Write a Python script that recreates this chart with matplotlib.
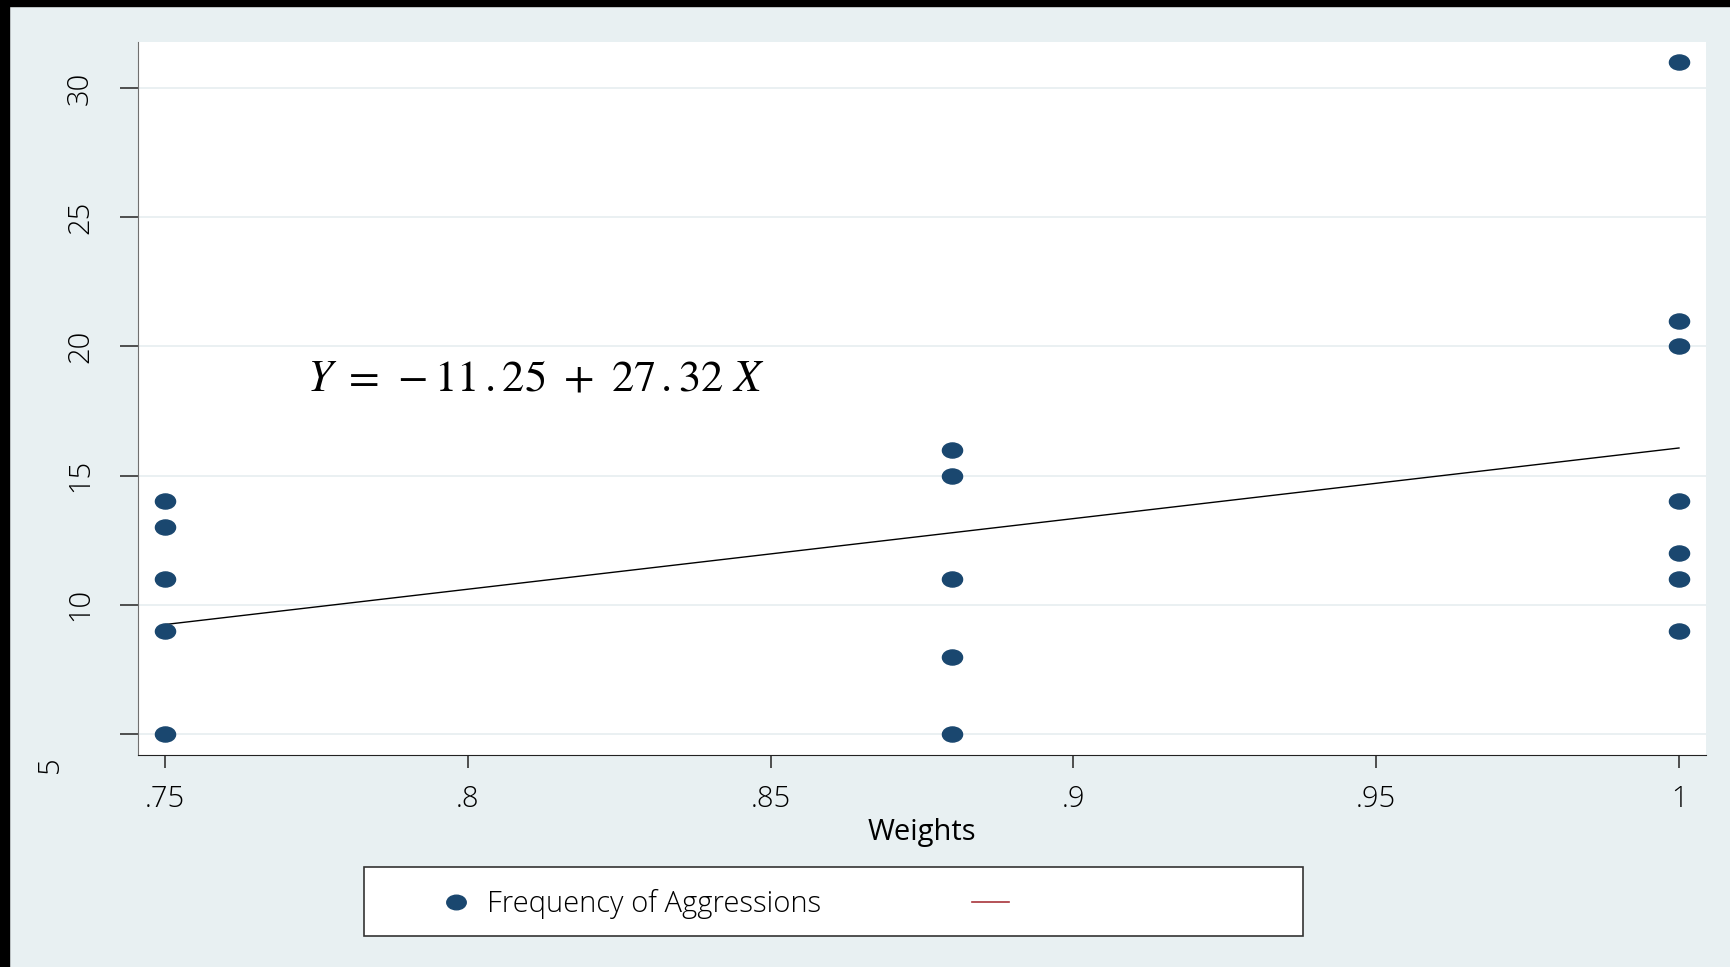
import matplotlib.pyplot as plt
import numpy as np
from matplotlib.path import Path
from matplotlib.patches import Rectangle
from matplotlib.lines import Line2D

# weights and observed aggression counts
weights = [0.75, 0.75, 0.75, 0.75, 0.75,
           0.88, 0.88, 0.88, 0.88, 0.88,
           1.0, 1.0, 1.0, 1.0, 1.0, 1.0, 1.0]
aggressions = [14, 13, 11, 9, 5,
               16, 15, 11, 8, 5,
               31, 21, 20, 14, 12, 11, 9]

# fitted line coefficients
intercept = -11.25
slope = 27.32

xticks = [0.75, 0.8, 0.85, 0.9, 0.95, 1.0]
xtick_labels = ['.75', '.8', '.85', '.9', '.95', '1']
yticks = [5, 10, 15, 20, 25, 30]
ytick_labels = ['', '10', '15', '20', '25', '30']

bg = '#e8f0f2'
navy = '#1a476f'
maroon = '#a8353b'
W, H = 1731, 967

plt.rcParams['font.family'] = ['Open Sans', 'DejaVu Sans']
plt.rcParams['font.weight'] = 'light'
plt.rcParams['mathtext.fontset'] = 'stix'

fig = plt.figure(figsize=(W / 100, H / 100), dpi=100, facecolor=bg)
# black frame strips on the top and left edges
fig.patches.append(Rectangle((0, 1 - 6 / H), 1, 6 / H, transform=fig.transFigure,
                             color='black', zorder=-1))
fig.patches.append(Rectangle((0, 0), 9 / W, 1, transform=fig.transFigure,
                             color='black', zorder=-1))

ax = fig.add_axes([138 / W, 1 - 755 / H, (1706 - 138) / W, (755 - 42) / H])
ax.set_facecolor('white')

# ellipse marker, a bit wider than tall
circ = Path.unit_circle()
ellipse = Path(circ.vertices * np.array([1.0, 0.75]), circ.codes)

ax.plot(weights, aggressions, linestyle='none', marker=ellipse, markersize=14.5,
        color=navy, zorder=3)

xs = np.array([min(weights), max(weights)])
ax.plot(xs, intercept + slope * xs, color='black', linewidth=1.0, zorder=2)

ax.text(0.7734, 18.74, r'$Y\ =\,-11\,{.}25\ +\ 27\,{.}32\,\,X$', fontsize=32,
        va='center', ha='left')

ax.set_xlim(0.7455, 1.00446)
ax.set_ylim(4.19, 31.78)
ax.set_xticks(xticks)
ax.set_xticklabels(xtick_labels)
ax.set_yticks(yticks)
ax.set_yticklabels(ytick_labels, rotation=90, va='center')
ax.grid(axis='y', color='#e6eef0', linewidth=1.2)
ax.set_axisbelow(True)

for s in ['top', 'right']:
    ax.spines[s].set_visible(False)
ax.spines['left'].set_color('#707070')
ax.spines['bottom'].set_color('#222222')
ax.tick_params(axis='y', length=13, width=1.2, pad=18, labelsize=21, color='#333333')
ax.tick_params(axis='x', length=9, width=1.2, pad=12, labelsize=21, color='#333333')

ax.set_xlabel('Weights', fontsize=21, labelpad=3)

# the lowest y label sits off on its own below the axis
fig.text(50 / W, 1 - 765 / H, '5', rotation=90, fontsize=21, ha='center', va='center')

# legend frame, with a frameless legend drawn on top of it
fig.patches.append(Rectangle((364 / W, 1 - 936 / H), (1303 - 364) / W, (936 - 867) / H,
                             transform=fig.transFigure, facecolor='white',
                             edgecolor='#333333', linewidth=1.2, zorder=1))
leg = fig.legend(handles=[Line2D([], [], linestyle='none', marker=ellipse, markersize=14,
                                 color=navy, label='Frequency of Aggressions'),
                          Line2D([], [], color=maroon, linewidth=1.2, label=' ')],
                 loc='center left', bbox_to_anchor=(437 / W, 1 - 904 / H),
                 ncol=2, fontsize=21, frameon=False,
                 borderpad=0, borderaxespad=0, columnspacing=5.15,
                 handlelength=1.27, handletextpad=0.45)
leg.set_zorder(5)

fig.savefig('out.png', dpi=100, facecolor=bg)
